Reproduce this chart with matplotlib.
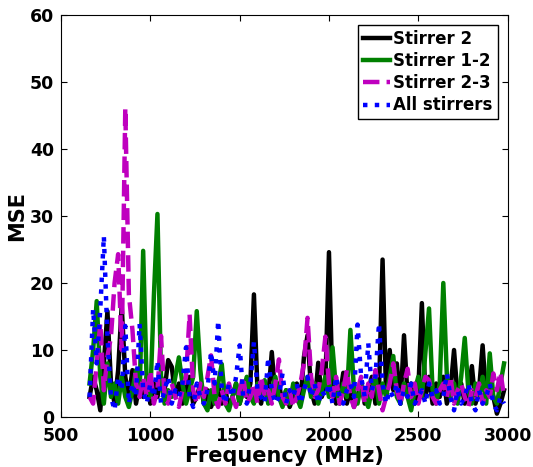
import numpy as np
import matplotlib
matplotlib.use("Agg")
import matplotlib.pyplot as plt

# Frequency grid (MHz), 660 ... 2980 in 20 MHz steps
freq = np.arange(660, 2981, 20)

# MSE values, one per frequency point
stirrer_2 = [
    3, 6, 4, 1, 8, 15.8, 5, 2, 7, 16.6,            # 660-840
    6, 3, 7, 2, 5, 3, 6, 2, 5, 3,                  # 860-1040
    6, 4, 8.5, 7.5, 3, 5, 2, 4, 6, 2,              # 1060-1240
    3, 5, 2, 4, 1.5, 3, 5, 2, 4, 1.5,              # 1260-1440
    3, 5, 2, 4, 3, 5, 18.3, 4, 2, 5,               # 1460-1640
    3, 9.7, 3, 5, 2, 4, 1.5, 3, 5, 2,              # 1660-1840
    9, 12.2, 4, 2, 8.1, 3, 5, 24.6, 4, 2,          # 1860-2040
    3, 6.6, 2, 4, 1.5, 3, 5, 2, 4, 6,              # 2060-2240
    2, 4, 23.5, 3, 10, 4, 8, 2, 12.2, 3,           # 2260-2440
    5, 2, 4, 17, 3, 6, 2, 5, 3, 6,                 # 2460-2640
    2, 4, 10, 3, 5, 2, 4, 7.6, 2, 4,               # 2660-2840
    10.7, 3, 5, 3, 0.5, 2, 4,                      # 2860-2980
]
stirrer_1_2 = [
    5, 10, 17.3, 6, 2, 8, 3, 5, 2, 6,
    3, 1.5, 4, 7, 3, 24.8, 5, 3, 18.1, 30.3,
    6, 2, 4, 3, 6, 8.9, 5, 2, 4, 6,
    15.8, 7, 2, 1, 4, 2, 5, 7.9, 2, 1,
    3, 5, 2, 4, 6, 3, 2, 5, 3, 5.5,
    2, 4, 6, 3, 1.5, 4, 2, 5, 3, 1.5,
    4, 6, 3, 5, 2, 4, 6, 3, 10.4, 4,
    2, 5, 3, 13, 4, 2, 5, 3, 1.5, 4,
    6, 2, 5, 3, 6, 9.1, 3, 2, 5, 3,
    1, 4, 6, 3, 9.7, 16.2, 4, 2, 5, 20,
    6, 3, 5, 2, 6, 11.8, 4, 2, 5, 3,
    6, 2, 9.5, 3, 2, 5, 8,
]
stirrer_2_3 = [
    3, 2, 8, 14, 4, 9, 12, 20, 24.3, 10,
    46.1, 18.3, 13, 5, 3, 6, 3, 6.9, 2, 4,
    12.1, 3, 2, 5, 3, 1.5, 4, 6, 15.3, 4,
    2, 5, 3, 6, 9.2, 3, 1.5, 4, 2, 5,
    3, 1.5, 4, 6, 2, 3, 5, 2, 6, 3,
    4, 2, 5, 8.6, 3, 2, 4, 1.5, 3, 5,
    8, 14.8, 6, 3, 4, 7, 12, 5, 3, 6,
    2, 4, 7, 3, 1.5, 4, 6, 2, 5, 3,
    7, 4, 1, 3, 5, 8, 4, 2, 5, 7.2,
    3, 5, 2, 4, 6, 5.5, 3, 2, 4, 5,
    3, 6, 2, 4, 5, 3, 1.5, 4, 3, 5,
    2, 4, 3, 6.5, 4, 6.7, 3,
]
all_stirrers = [
    3, 16.1, 8, 16.1, 27, 12, 3, 1, 6, 4,
    13.6, 2, 5, 3, 13.9, 4, 2, 5, 3, 8.4,
    2, 4, 6, 2, 4, 3, 5, 10.4, 3, 1.5,
    5, 3, 2, 4, 9.7, 5, 14.4, 4, 2, 5,
    3, 6, 10.7, 3, 2, 5, 11.2, 4, 3, 2,
    8.9, 4, 2, 3, 6.5, 2, 4, 3, 5, 2,
    4, 6, 3, 5, 2, 4, 3, 5, 2, 6,
    3, 2, 4, 5, 3, 13.8, 6, 3, 11, 4,
    6, 14, 5, 2, 4, 3, 5, 2, 4, 3,
    5, 2, 3, 4, 2, 5, 3, 4, 2, 3,
    6.5, 3, 1, 4, 2, 3, 5, 2, 1, 4,
    2, 3, 5, 2, 1, 3, 2,
]

fig = plt.figure(figsize=(5.33, 4.67), dpi=100)
ax = fig.add_axes([0.1144, 0.107, 0.838, 0.861])

ax.plot(freq, stirrer_2, color='k', lw=3.2, label='Stirrer 2')
ax.plot(freq, stirrer_1_2, color=(0, 0.5, 0), lw=3.2, label='Stirrer 1-2')
ax.plot(freq, stirrer_2_3, color='m', lw=3.2, ls='--', label='Stirrer 2-3')
ax.plot(freq, all_stirrers, color='b', lw=3.2, ls=':', label='All stirrers')

ax.set_xlim(500, 3000)
ax.set_ylim(0, 60)
ax.set_xticks([500, 1000, 1500, 2000, 2500, 3000])
ax.set_yticks([0, 10, 20, 30, 40, 50, 60])
ax.tick_params(direction='in', top=True, right=True, labelsize=12.5, length=4)
ax.tick_params(axis='x', pad=7)
ax.tick_params(axis='y', pad=5)
for lab in ax.get_xticklabels() + ax.get_yticklabels():
    lab.set_fontweight('bold')
ax.set_xlabel('Frequency (MHz)', fontsize=15, fontweight='bold', labelpad=1)
ax.set_ylabel('MSE', fontsize=15, fontweight='bold', labelpad=2)

leg = ax.legend(loc='upper right', prop={'weight': 'bold', 'size': 12},
                fancybox=False, framealpha=1, edgecolor='k',
                handlelength=1.6, handletextpad=0.2, borderpad=0.3,
                labelspacing=0.25, borderaxespad=0.6)
leg.get_frame().set_linewidth(1)

fig.savefig('out.png', dpi=100)
